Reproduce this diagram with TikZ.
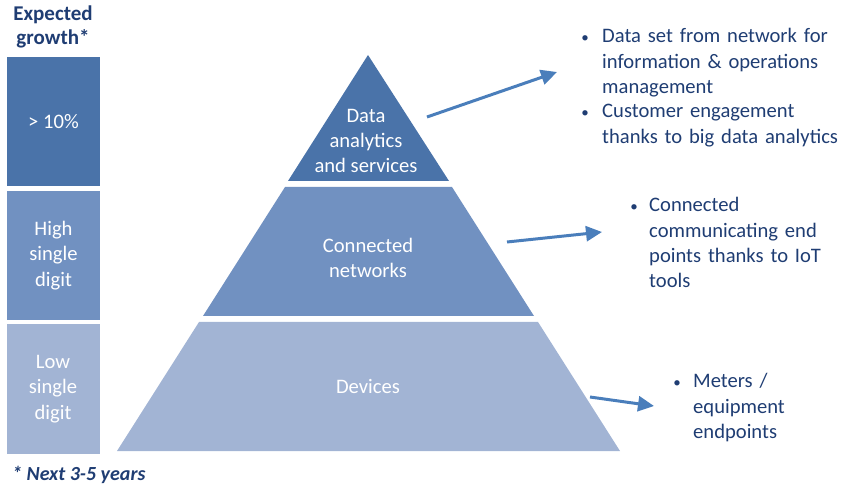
\documentclass[tikz,border=0pt]{standalone}
\usepackage{fontspec}
\setmainfont{Carlito}
\usetikzlibrary{arrows.meta}

\definecolor{lvlA}{HTML}{4A73A9}
\definecolor{lvlB}{HTML}{7191C1}
\definecolor{lvlC}{HTML}{A2B4D4}
\definecolor{arrowblue}{HTML}{4A7EBB}
\definecolor{navy}{HTML}{1F3D73}

\tikzset{
  growbox/.style={fill=#1, text=white, minimum width=93pt, minimum height=129pt, inner sep=0pt, align=center},
  layertext/.style={text=white, align=center, inner sep=0pt},
  bullettext/.style={text=navy, align=left, anchor=base west, inner sep=0pt, text width=300pt},
  dot/.style={text=navy, anchor=base, inner sep=0pt, font=\fontsize{15}{15}\selectfont},
  pointer/.style={draw=arrowblue, line width=3pt, -{Triangle[length=16pt,width=15pt]}}
}

\begin{document}
\begin{tikzpicture}[x=1pt,y=-1pt, every node/.style={font=\fontsize{20.6}{25.3}\selectfont}]
\useasboundingbox (0,0) rectangle (841,486);
% growth column
\node[font=\bfseries\fontsize{21}{24}\selectfont, text=navy, align=center, text width=100pt, anchor=base, inner sep=0pt] (head) at (53,21) {Expected\\growth*};
\node[growbox=lvlA] (g1) at (53.5,121.5) {> 10\%};
\node[growbox=lvlB] (g2) at (53.5,255.5) {High\\single\\digit};
\node[growbox=lvlC] (g3) at (53,389) {Low\\single\\digit};
\node[font=\bfseries\itshape\fontsize{20}{22}\selectfont, text=navy, anchor=base west, inner sep=0pt] (note) at (12,480) {* Next 3-5 years};

% pyramid
\fill[lvlA] (368,55) -- (449,181) -- (288,181) -- cycle;
\fill[lvlB] (285,187) -- (452,187) -- (534,316) -- (203,316) -- cycle;
\fill[lvlC] (199,322) -- (538,322) -- (620,451) -- (117,451) -- cycle;
\node[layertext] (top) at (366,141) {Data\\analytics\\and services};
\node[layertext] (mid) at (368,258) {Connected\\networks};
\node[layertext] (dev) at (368,386) {Devices};

% bullets
\foreach \x/\y/\n in {585/43/1, 585/118/2, 634/212/3, 677/388/4}{
  \node[dot] (d\n) at (\x,\y) {•};
}
\node[bullettext] (t1) at (602,43) {Data set from network for\\information \& operations\\management};
\node[bullettext] (t2) at (602,118) {Customer engagement\\thanks to big data analytics};
\node[bullettext] (t3) at (649,212) {Connected\\communicating end\\points thanks to IoT\\tools};
\node[bullettext] (t4) at (693,388) {Meters /\\equipment\\endpoints};

% arrows
\coordinate (s1) at (427,117); \coordinate (e1) at (557,72);
\coordinate (s2) at (507,242); \coordinate (e2) at (602,232);
\coordinate (s3) at (590,397); \coordinate (e3) at (654,406);
\foreach \n in {1,2,3}{
  \draw[pointer] (s\n) -- (e\n);
}
\end{tikzpicture}
\end{document}
